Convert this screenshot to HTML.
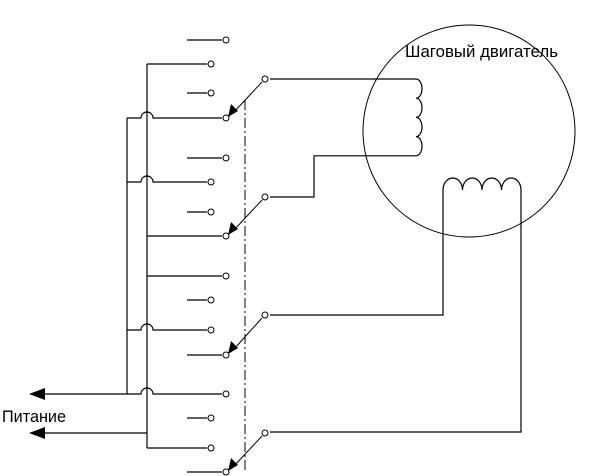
<!DOCTYPE html>
<html><head><meta charset="utf-8"><style>body{margin:0;background:#fff}svg{display:block}</style></head><body>
<svg width="601" height="476" viewBox="0 0 601 476" xmlns="http://www.w3.org/2000/svg" font-family="Liberation Sans, sans-serif">
<g fill="none" stroke="#000" stroke-width="1.2">
<circle cx="469" cy="131" r="106" stroke-width="1"/>
<path d="M270 79 H416 a6 9.6 0 0 1 0 19.2 a6 9.6 0 0 1 0 19.2 a6 9.6 0 0 1 0 19.2 a6 9.6 0 0 1 0 19.2 H314 V197 H270"/>
<path d="M270 315 H443 V190 a9.75 12 0 0 1 19.5 0 a9.75 12 0 0 1 19.5 0 a9.75 12 0 0 1 19.5 0 a9.75 12 0 0 1 19.5 0 V432 H270"/>
<path d="M147 64 V448 M127 118 V394"/>
<path d="M187 40 H222 M147 64 H207 M187 93 H207 M127 118 H141 a6 6 0 0 1 12 0 H222 M187 158 H222 M127 182 H141 a6 6 0 0 1 12 0 H207 M187 212 H207 M147 236 H222 M147 276 H222 M187 300 H207 M127 330 H141 a6 6 0 0 1 12 0 H207 M187 355 H222 M40 394 H141 a6 6 0 0 1 12 0 H222 M187 418 H207 M40 433 H147 M147 448 H207 M187 472 H222"/>
<path d="M262 82 L234 112 M262 200 L234 230 M262 318 L234 349 M262 436 L234 466" stroke-width="1"/>
<path d="M245 100 V470" stroke-width="1" stroke-dasharray="10,3,2,3"/>
</g>
<g fill="#fff" stroke="#000" stroke-width="1">
<circle cx="226" cy="40" r="3"/><circle cx="211" cy="64" r="3"/><circle cx="211" cy="93" r="3"/><circle cx="226" cy="118" r="3"/>
<circle cx="226" cy="158" r="3"/><circle cx="211" cy="182" r="3"/><circle cx="211" cy="212" r="3"/><circle cx="226" cy="236" r="3"/>
<circle cx="226" cy="276" r="3"/><circle cx="211" cy="300" r="3"/><circle cx="211" cy="330" r="3"/><circle cx="226" cy="355" r="3"/>
<circle cx="226" cy="394" r="3"/><circle cx="211" cy="418" r="3"/><circle cx="211" cy="448" r="3"/><circle cx="226" cy="472" r="3"/>
<circle cx="265" cy="79" r="3"/><circle cx="265" cy="197" r="3"/><circle cx="265" cy="315" r="3"/><circle cx="265" cy="433" r="3"/>
</g>
<g fill="#000">
<path d="M228 117 L231 104 L238 111 Z"/>
<path d="M228 235 L231 222 L238 229 Z"/>
<path d="M228 354 L231 341 L238 348 Z"/>
<path d="M228 471 L231 458 L238 465 Z"/>
<path d="M29 394 L45 388 L45 400 Z"/>
<path d="M29 433 L45 427 L45 439 Z"/>
</g>
<text x="405" y="57" font-size="16.5" textLength="153" lengthAdjust="spacingAndGlyphs">Шаговый двигатель</text>
<text x="2" y="422" font-size="16.5" textLength="64" lengthAdjust="spacingAndGlyphs">Питание</text>
</svg>
</body></html>
